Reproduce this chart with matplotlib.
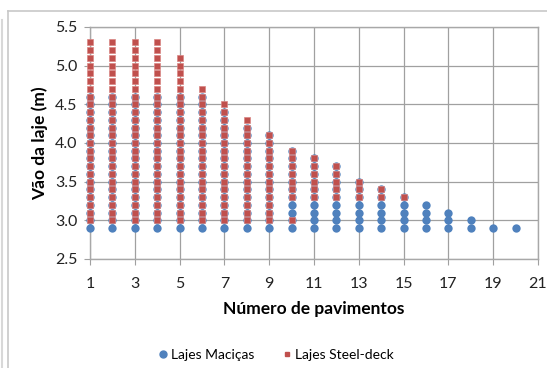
import numpy as np
import matplotlib
matplotlib.use('Agg')
import matplotlib.pyplot as plt
from matplotlib.lines import Line2D

plt.rcParams['font.family'] = ['Lato', 'DejaVu Sans']

# number of floors (pavimentos)
floors = list(range(1, 21))

# Lajes Maciças: spans from 2.9 m up to the max span per floor count (step 0.1 m)
macica_min = [2.9] * 20
macica_max = [4.6, 4.6, 4.6, 4.6, 4.6, 4.6, 4.4, 4.2, 4.1, 3.9,
              3.8, 3.7, 3.5, 3.4, 3.3, 3.2, 3.1, 3.0, 2.9, 2.9]

# Lajes Steel-deck: floors 1..15
steel_floors = list(range(1, 16))
steel_min = [3.0, 3.0, 3.0, 3.0, 3.0, 3.0, 3.0, 3.0, 3.0, 3.3,
             3.3, 3.3, 3.3, 3.3, 3.3]
steel_max = [5.3, 5.3, 5.3, 5.3, 5.1, 4.7, 4.5, 4.3, 4.1, 3.9,
             3.8, 3.7, 3.5, 3.4, 3.3]
steel_extra_x = [10]
steel_extra_y = [3.0]

xticks = list(range(1, 22, 2))
yticks = [2.5, 3.0, 3.5, 4.0, 4.5, 5.0, 5.5]


def expand(xs, lo, hi):
    px, py = [], []
    for x, a, b in zip(xs, lo, hi):
        n = int(round((b - a) / 0.1)) + 1
        for k in range(n):
            px.append(x)
            py.append(round(a + 0.1 * k, 1))
    return px, py


blue = '#4F81BD'
red = '#C0504D'

fig = plt.figure(figsize=(5.47, 3.68), dpi=100)
ax = fig.add_axes([90 / 547, 1 - 259 / 368, 448 / 547, 232 / 368])

bx, by = expand(floors, macica_min, macica_max)
sx, sy = expand(steel_floors, steel_min, steel_max)
sx += steel_extra_x
sy += steel_extra_y

ax.plot(bx, by, 'o', color=blue, markersize=6.0, markeredgewidth=0, zorder=3,
        clip_on=False)
ax.plot(sx, sy, 's', color=red, markersize=4.6, markeredgecolor='#D88583',
        markeredgewidth=0.5, zorder=4, clip_on=False)

ax.set_xlim(1, 21)
ax.set_ylim(2.5, 5.5)
ax.set_xticks(xticks)
ax.set_yticks(yticks)
ax.set_yticklabels(['%.1f' % v for v in yticks])
ax.grid(True, color='#a0a0a0', linewidth=0.9)
ax.set_axisbelow(True)
for s in ax.spines.values():
    s.set_color('#a8a8a8')
    s.set_linewidth(1.0)
ax.tick_params(axis='both', direction='out', length=4, color='#a0a0a0',
               labelsize=11.5, colors='#222222', pad=5)
ax.tick_params(axis='x', pad=9)
ax.set_xlabel('Número de pavimentos', fontsize=12.5, fontweight='bold', labelpad=7)
ax.set_ylabel('Vão da laje (m)', fontsize=12.5, fontweight='bold', labelpad=5)

handles = [Line2D([], [], marker='o', linestyle='', color=blue, markersize=5),
           Line2D([], [], marker='s', linestyle='', color=red, markersize=3.5)]
fig.legend(handles, ['Lajes Maciças', 'Lajes Steel-deck'], loc='center',
           bbox_to_anchor=(275 / 547, 1 - 355 / 368), ncol=2, frameon=False,
           fontsize=10, handletextpad=0.1, columnspacing=1.8, handlelength=1.0)

# chart area border
fig.add_artist(Line2D([8 / 547, 1], [1 - 11 / 368, 1 - 11 / 368], color='#c8c8c8', lw=1.2))
fig.add_artist(Line2D([8 / 547, 8 / 547], [0, 1 - 11 / 368], color='#c8c8c8', lw=1.2))
fig.add_artist(Line2D([2 / 547, 2 / 547], [0, 1 - 20 / 368], color='#d8d8d8', lw=1.5))

fig.savefig('out.png', dpi=100)
